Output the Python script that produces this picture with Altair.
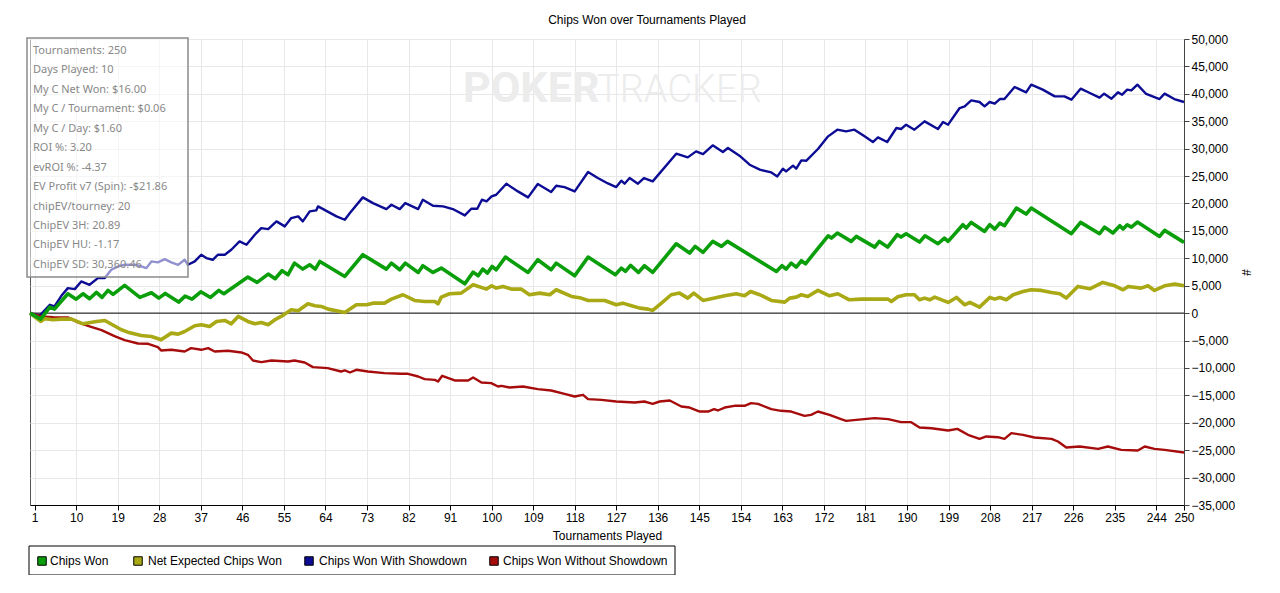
import altair as alt
import pandas as pd

TITLE = "Chips Won over Tournaments Played"
X_TITLE = "Tournaments Played"
Y_TITLE = "#"
SERIES = ["Chips Won", "Net Expected Chips Won", "Chips Won With Showdown", "Chips Won Without Showdown"]
COLORS = ["#0b9e0b", "#a9a916", "#0c0c94", "#a60c0c"]
WIDTHS = [3.6, 3.6, 2.4, 2.4]

X_TICKS = [1, 10, 19, 28, 37, 46, 55, 64, 73, 82, 91, 100, 109, 118, 127, 136, 145,
           154, 163, 172, 181, 190, 199, 208, 217, 226, 235, 244, 250]
Y_TICKS = list(range(-35000, 50001, 5000))

STATS = [
    "Tournaments: 250",
    "Days Played: 10",
    "My C Net Won: $16.00",
    "My C / Tournament: $0.06",
    "My C / Day: $1.60",
    "ROI %: 3.20",
    "evROI %: -4.37",
    "EV Profit v7 (Spin): -$21.86",
    "chipEV/tourney: 20",
    "ChipEV 3H: 20.89",
    "ChipEV HU: -1.17",
    "ChipEV SD: 30,360.46",
]

# Chips Won (green)
green_t = [0, 2.3, 4.3, 5.3, 8.2, 10.0, 11.5, 12.9, 14.4, 15.6, 16.9, 18.0, 20.5, 23.8, 26.3,
           27.9, 29.3, 32.2, 33.6, 35.1, 37.0, 39.1, 40.9, 42.0, 47.2, 49.2, 51.6, 53.1, 54.6,
           55.9, 57.3, 59.1, 60.6, 61.8, 62.8, 68.2, 72.1, 77.2, 78.3, 80.1, 81.3, 84.1, 85.1,
           87.3, 89.1, 94.2, 96.0, 97.1, 98.1, 99.1, 100.1, 101.0, 103.0, 107.9, 110.0, 112.9,
           114.0, 118.0, 120.9, 126.8, 128.1, 129.0, 130.1, 131.8, 133.1, 134.9, 140.0, 142.9,
           144.1, 145.8, 147.9, 149.8, 151.1, 161.7, 162.9, 163.8, 164.9, 166.0, 167.1, 168.0,
           172.9, 173.6, 174.9, 177.9, 179.0, 183.0, 184.0, 185.8, 187.9, 188.7, 189.8, 192.7,
           193.9, 196.7, 198.1, 198.9, 202.1, 202.8, 203.9, 206.8, 207.9, 209.0, 210.1, 211.1,
           213.7, 215.8, 216.9, 225.6, 227.6, 231.7, 232.8, 234.6, 236.1, 236.8, 237.7, 238.6,
           239.9, 244.7, 245.8, 250]
green_v = [0, -1090, 1090, 730, 3530, 2550, 3530, 2620, 3770, 2860, 4140, 3410, 5050, 2860, 3710,
           2740, 3590, 2010, 3100, 2550, 3890, 2860, 4140, 3530, 6570, 5600, 7120, 6270, 7730,
           7000, 9120, 8030, 8820, 8030, 9430, 6690, 10650, 8030, 9120, 7910, 9120, 7420, 8640,
           7420, 8210, 5350, 7480, 6810, 8030, 7300, 8520, 7910, 10220, 7420, 9730, 7910,
           9120, 6810, 10220, 7000, 8210, 7600, 8700, 7420, 8640, 7420, 12650, 10950,
           12170, 11070, 13080, 12170, 13080, 7600, 8640, 8030, 9120, 8390, 9550, 9000,
           14110, 13690, 14600, 13080, 13990, 12040, 13080, 12040, 14300, 13870, 14480, 12960,
           14110, 12650, 13690, 13080, 16120, 15510, 16550, 14900, 16120, 15330, 16420, 15940,
           19160, 18070, 19160, 14480, 16550, 14480, 15690, 14600, 15940, 15330, 16120, 15690,
           16610, 13990, 15090, 12900]

# Net Expected Chips Won (olive)
yellow_t = [0, 2.3, 3.2, 5.0, 6.8, 9.0, 11.5, 14.4, 16.2, 19.8, 21.2, 24.1, 26.3, 28.4, 30.6,
            32.1, 33.5, 35.7, 37.1, 38.9, 40.4, 42.2, 43.6, 45.1, 47.2, 48.7, 50.1, 51.6, 53.0,
            54.4, 56.6, 58.1, 60.2, 61.7, 63.1, 64.6, 68.2, 70.7, 72.9, 74.3, 76.8, 78.3, 80.8,
            83.3, 85.5, 87.7, 88.4, 89.1, 90.9, 93.4, 96.0, 98.9, 100.0, 101.0, 102.5, 104.3,
            106.4, 108.2, 110.4, 112.6, 114.0, 117.3, 119.4, 120.9, 124.5, 127.0, 128.4, 130.3,
            132.1, 133.9, 134.9, 136.8, 138.9, 140.7, 142.5, 143.8, 145.8, 148.3, 150.5, 153.0,
            154.8, 156.1, 158.1, 160.6, 163.5, 164.6, 166.0, 167.1, 168.5, 170.7, 173.2, 175.0,
            177.5, 180.1, 182.2, 185.9, 186.6, 188.0, 189.8, 191.6, 192.7, 193.8, 194.9, 196.0,
            198.9, 200.7, 202.5, 203.6, 205.7, 207.9, 209.0, 210.1, 211.5, 213.0, 215.1, 216.9,
            219.1, 221.3, 223.1, 224.5, 227.0, 229.6, 232.4, 235.0, 236.8, 237.9, 240.7, 242.2,
            243.6, 245.8, 248.0, 250]
yellow_v = [0, -1520, -1030, -1220, -1090, -1090, -1950, -1520, -1340, -3040, -3470, -4080, -4260,
            -4870, -3650, -3830, -3350, -2310, -2130, -2430, -1520, -1340, -1950, -610, -1520,
            -1950, -1700, -2130, -1220, -610, 610, 430, 1700, 1340, 1220, 730, 120, 1520, 1520,
            1820, 1820, 2550, 3350, 2310, 2130, 2130, 1700, 2920, 3530, 3650, 5170, 4380, 4990,
            4560, 4870, 4380, 4380, 3350, 3650, 3350, 4260, 3040, 2740, 2310, 2310, 1520, 1820,
            1340, 910, 730, 490, 1820, 3350, 3650, 2740, 3650, 2310, 2740, 3160, 3530, 3160, 3950,
            3350, 2310, 2010, 2740, 2920, 3350, 3040, 4140, 3160, 3530, 2430, 2550, 2550, 2550,
            2130, 2980, 3350, 3350, 2430, 2740, 2430, 2920, 1950, 2860, 1520, 1950, 1090, 2860,
            2550, 2860, 2430, 3350, 3950, 4260, 4140, 3770, 3530, 2740, 4870, 4440, 5600, 4990,
            4260, 4870, 4560, 4990, 4140, 4990, 5290, 4990]

# Chips Won With Showdown (navy)
blue_t = [0, 2.1, 4.3, 5.3, 6.8, 8.2, 9.7, 11.1, 12.9, 14.7, 16.2, 17.6, 19.1, 20.5, 22.7, 24.1,
          25.2, 26.3, 27.7, 29.2, 30.6, 32.1, 33.5, 34.2, 35.7, 37.1, 38.2, 39.6, 40.7, 42.2,
          43.6, 45.4, 46.9, 48.7, 50.1, 51.6, 53.4, 55.2, 56.6, 58.1, 59.1, 60.6, 62.0, 62.4,
          66.4, 68.2, 69.3, 72.1, 74.3, 77.2, 78.3, 80.1, 81.3, 84.1, 85.1, 87.3, 89.5, 91.6,
          94.2, 95.6, 96.9, 97.9, 98.9, 100.0, 101.0, 103.2, 105.7, 107.9, 110.0, 112.9, 114.0,
          115.8, 118.0, 120.9, 123.0, 125.2, 127.0, 128.1, 128.8, 129.9, 131.7, 133.0, 134.9,
          140.0, 142.5, 144.3, 145.8, 147.9, 150.1, 151.2, 153.7, 155.9, 158.1, 160.6, 161.9,
          163.1, 163.8, 165.3, 166.0, 167.1, 168.2, 170.7, 172.9, 174.9, 176.8, 178.6, 180.8,
          182.6, 183.7, 185.7, 187.7, 188.7, 189.8, 191.6, 193.8, 196.7, 197.8, 198.9, 201.4,
          202.5, 203.9, 205.7, 206.8, 207.9, 209.0, 210.1, 211.1, 213.3, 215.8, 216.9, 219.4,
          222.0, 224.1, 225.6, 227.6, 229.6, 231.7, 232.7, 234.3, 235.7, 236.6, 237.7, 238.6,
          239.9, 241.8, 244.7, 245.8, 247.9, 250]
blue_v = [0, -430, 1520, 1220, 3160, 4560, 4380, 5780, 5170, 6390, 6390, 7910, 8520, 8820, 8820,
          8520, 8210, 9430, 9250, 9850, 9250, 8820, 9730, 8820, 9430, 10650, 10040, 9730, 10650,
          10650, 11560, 13080, 12470, 14300, 15510, 15330, 16730, 15820, 17340, 17640, 16730,
          18550, 18740, 19470, 17640, 17030, 18250, 21110, 20070, 18980, 19770, 18980, 20070,
          18980, 20680, 19590, 19470, 18980, 17820, 19040, 19040, 20680, 20380, 21290, 21590,
          23600, 22200, 21110, 23540, 22080, 23240, 22990, 22200, 25730, 24640, 23650, 22990,
          24150, 23600, 24640, 23600, 24640, 24030, 29080, 28410, 29500, 29020, 30600, 29380,
          30110, 28710, 27070, 26160, 25670, 24940, 26340, 25850, 26890, 26340, 27860, 27800,
          29930, 32240, 33460, 33150, 33460, 32240, 31210, 32060, 31210, 33760, 33580, 34370,
          33460, 34980, 33580, 34860, 34370, 37410, 37720, 38810, 38510, 37720, 38510, 38200,
          39050, 39050, 41240, 40270, 41670, 40760, 39540, 39540, 38930, 40940, 40150, 39300,
          40030, 39110, 40270, 39840, 40760, 40630, 41670, 39970, 39050, 40030, 39050, 38510]

# Chips Won Without Showdown (dark red)
red_t = [0, 2.5, 5.0, 8.2, 10.4, 12.9, 15.5, 18.3, 20.5, 23.4, 25.6, 27.7, 28.4, 30.6, 33.5,
         34.9, 37.1, 38.6, 40.0, 42.9, 45.8, 47.2, 48.3, 50.1, 52.3, 55.9, 57.3, 59.5, 61.3,
         64.5, 67.4, 68.2, 69.3, 70.7, 73.2, 76.8, 80.4, 81.9, 84.1, 85.5, 87.7, 88.4, 89.3,
         92.0, 94.9, 96.0, 97.8, 99.9, 101.4, 102.1, 103.9, 106.8, 110.0, 112.9, 115.8, 118.0,
         119.8, 120.9, 123.8, 127.0, 131.0, 133.1, 134.9, 136.4, 138.6, 141.1, 142.9, 145.1,
         146.9, 148.2, 149.0, 150.5, 152.6, 154.8, 156.2, 157.7, 160.6, 162.7, 164.9, 167.8,
         169.2, 170.7, 173.2, 175.7, 176.8, 179.0, 183.0, 185.9, 188.7, 190.9, 192.7, 195.3,
         198.9, 200.9, 203.2, 205.7, 207.2, 209.7, 211.1, 212.6, 215.1, 217.6, 221.3, 222.7,
         224.5, 227.4, 231.4, 233.5, 236.4, 240.0, 241.5, 243.6, 245.8, 250]
red_v = [0, -610, -730, -790, -1700, -2430, -3100, -4200, -4930, -5540, -5600, -6200, -6810,
         -6690, -7000, -6390, -6690, -6390, -7000, -6870, -7180, -7600, -8640, -8940, -8640,
         -8820, -8640, -9000, -9850, -10040, -10650, -10460, -10830, -10340, -10650, -10950,
         -11070, -11070, -11560, -12040, -12170, -12470, -11440, -12290, -12290, -11740,
         -12650, -12770, -13380, -13260, -13560, -13380, -13870, -14110, -14720, -15210,
         -14900, -15690, -15820, -16120, -16300, -16120, -16550, -16120, -15940, -17030,
         -17220, -17950, -17950, -17520, -17760, -17220, -16910, -16910, -16420, -16550,
         -17520, -17820, -17950, -18740, -18550, -17950, -18550, -19340, -19650, -19470,
         -19160, -19340, -19890, -19890, -20860, -20990, -21410, -21110, -22200, -22930,
         -22500, -22630, -22930, -21900, -22200, -22690, -22930, -23420, -24510, -24330,
         -24760, -24330, -24940, -25060, -24330, -24760, -24940, -25430]

FONT = "Liberation Sans"

# legend layout (pixel offsets inside the plot frame; styling, not data)
LEGEND_SYMBOL_X = [12, 108, 279, 464]
LEGEND_LABEL_X = [20, 118, 289, 473]

rows = []
for name, ts, vs in [(SERIES[0], green_t, green_v), (SERIES[1], yellow_t, yellow_v),
                     (SERIES[2], blue_t, blue_v), (SERIES[3], red_t, red_v)]:
    for t, v in zip(ts, vs):
        rows.append({"t": t, "v": v, "series": name})
df = pd.DataFrame(rows)

x_scale = alt.Scale(domain=[0, 250], nice=False, zero=False)
y_scale = alt.Scale(domain=[-35000, 50000], nice=False)

x_axis = alt.Axis(values=X_TICKS, tickCount=len(X_TICKS), title=X_TITLE, labelFont=FONT,
                  labelFontSize=12, labelColor="black", tickColor="black", tickSize=5,
                  domainColor="black", gridColor="#e8e8e8", labelFlush=False,
                  labelOverlap=False, labelPadding=2, titleFont=FONT, titleFontSize=12,
                  titleFontWeight="normal", titleColor="black", titlePadding=7)
y_axis = alt.Axis(orient="right", values=Y_TICKS, tickCount=len(Y_TICKS), format=",.0f",
                  title=Y_TITLE, labelFont=FONT, labelFontSize=12, labelColor="black",
                  tickColor="#444444", tickSize=5, domainColor="#444444",
                  gridColor="#e8e8e8", labelFlush=False, labelOverlap=False,
                  labelPadding=2, titleFont=FONT, titleFontSize=12,
                  titleFontWeight="normal", titleColor="black", titlePadding=4)

x_enc = alt.X("t:Q", scale=x_scale, axis=x_axis)
y_enc = alt.Y("v:Q", scale=y_scale, axis=y_axis)

color_enc = alt.Color("series:N", scale=alt.Scale(domain=SERIES, range=COLORS), legend=None)


def line_layer(name, width):
    return alt.Chart(df).transform_filter(alt.datum.series == name).mark_line(
        strokeWidth=width, strokeJoin="round").encode(x=x_enc, y=y_enc, color=color_enc)


one = pd.DataFrame({"k": [0]})

watermark1 = alt.Chart(one).mark_text(text="POKER", font="Roboto", fontWeight="bold",
                                      fontSize=43, color="#ececec", align="left",
                                      baseline="alphabetic").encode(
    x=alt.value(433), y=alt.value(63))
watermark2 = alt.Chart(one).mark_text(text="TRACKER", font="Roboto", fontWeight=300,
                                      fontSize=38, color="#ececec", align="left",
                                      baseline="alphabetic").encode(
    x=alt.value(567), y=alt.value(63))

zero = alt.Chart(pd.DataFrame({"v": [0]})).mark_rule(color="black", strokeWidth=1).encode(
    y=y_enc)

box = alt.Chart(one).mark_rect(fill="white", fillOpacity=0.55, stroke="#8a8a8a",
                               strokeWidth=1.5).encode(
    x=alt.value(-3), x2=alt.value(158), y=alt.value(-1), y2=alt.value(238))

stats = alt.Chart(pd.DataFrame({"text": ["\n".join(STATS)]})).mark_text(
    align="left", baseline="alphabetic", lineBreak="\n", lineHeight=19.45,
    font="Noto Sans", fontSize=11, color="#888888").encode(
    x=alt.value(3), y=alt.value(15), text="text:N")

# legend drawn below the plot: frame, swatches and labels
legend_layers = [
    alt.Chart(one).mark_rect(fill="white", stroke="black", strokeWidth=1).encode(
        x=alt.value(-1), x2=alt.value(645), y=alt.value(507), y2=alt.value(536))
]
for name, col, sx, lx in zip(SERIES, COLORS, LEGEND_SYMBOL_X, LEGEND_LABEL_X):
    legend_layers.append(
        alt.Chart(one).mark_square(size=72, fill=col, stroke="black", strokeWidth=1,
                                   opacity=1).encode(x=alt.value(sx), y=alt.value(522)))
    legend_layers.append(
        alt.Chart(one).mark_text(text=name, font=FONT, fontSize=12, color="black",
                                 align="left", baseline="middle").encode(
            x=alt.value(lx), y=alt.value(522)))

chart = alt.layer(
    watermark1, watermark2, zero,
    line_layer(SERIES[2], WIDTHS[2]),
    line_layer(SERIES[3], WIDTHS[3]),
    line_layer(SERIES[1], WIDTHS[1]),
    line_layer(SERIES[0], WIDTHS[0]),
    box, stats, *legend_layers,
).properties(
    width=1154, height=466,
    title=alt.TitleParams(TITLE, font=FONT, fontSize=12, fontWeight="normal", color="black",
                          anchor="middle", dx=40, offset=6),
    padding={"left": 22, "top": 31, "right": 80, "bottom": 70},
    autosize=alt.AutoSizeParams(type="none"),
).configure(background="white").configure_view(stroke="#555555", strokeWidth=1)

chart.save("out.html", embed_options={"renderer": "svg", "actions": False})
